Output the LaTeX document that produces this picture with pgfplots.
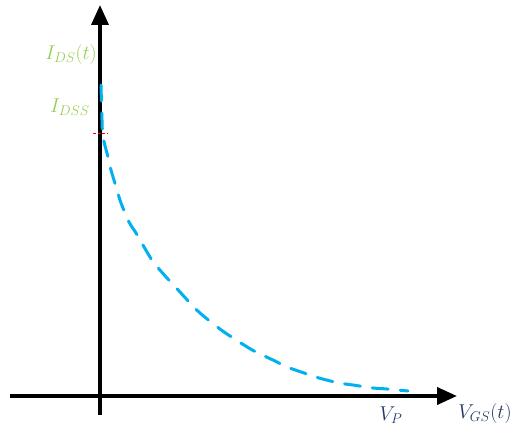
\RequirePackage{fix-cm}
\documentclass[border=0pt]{standalone}
\usepackage{pgfplots}
\pgfplotsset{compat=1.18}
\usetikzlibrary{arrows.meta}
\definecolor{curvecyan}{HTML}{00B0F0}
\definecolor{lblgreen}{HTML}{92D050}
\definecolor{lblnavy}{HTML}{1F3864}
\DeclareMathSizes{20}{20}{14}{10}
\begin{document}
\begin{tikzpicture}
\begin{axis}[
  x=1pt, y=1pt,
  xmin=-100, xmax=422, ymin=-33, ymax=396,
  hide axis, clip=false,
  scale only axis,
]
\addplot[draw=none, forget plot] coordinates {(-100,-33) (422,396)};
% axes
\addplot[black, line width=3.8pt, -{Triangle[length=20pt,width=17pt]}] coordinates {(-90,0) (357,0)};
\addplot[black, line width=3.8pt, -{Triangle[length=20pt,width=17pt]}] coordinates {(0,-19) (0,391)};
% IDSS tick
\addplot[red, line width=0.8pt, dash pattern=on 3pt off 1.5pt] coordinates {(-7,263) (7,263)};
% curve
\addplot[curvecyan, line width=3pt, dash pattern=on 16pt off 12pt, smooth, line cap=round] coordinates {
(1,311) (2,276) (3,259) (8,239) (11,226) (17,206) (21,193) (29,174) (36,163)
(47,144) (54,133) (67,118) (80,104) (90,93) (100,83) (116,70) (127,62)
(144,51) (156,44) (175,35) (187,29) (207,22) (219,18) (239,13) (253,11)
(273,8) (287,7) (308,5)};
% labels
\node[lblgreen, anchor=east, font=\fontsize{20}{22}\selectfont, inner sep=0pt] at (axis cs:-3,341) {$I_{DS}(t)$};
\node[lblgreen, anchor=west, font=\fontsize{20}{22}\selectfont, inner sep=0pt] at (axis cs:-50,289) {$I_{DSS}$};
\node[lblnavy, font=\fontsize{20}{22}\selectfont, inner sep=0pt] at (axis cs:291,-19) {$V_{P}$};
\node[lblnavy, font=\fontsize{20}{22}\selectfont, inner sep=0pt] at (axis cs:385,-17) {$V_{GS}(t)$};
\end{axis}
\end{tikzpicture}
\end{document}
